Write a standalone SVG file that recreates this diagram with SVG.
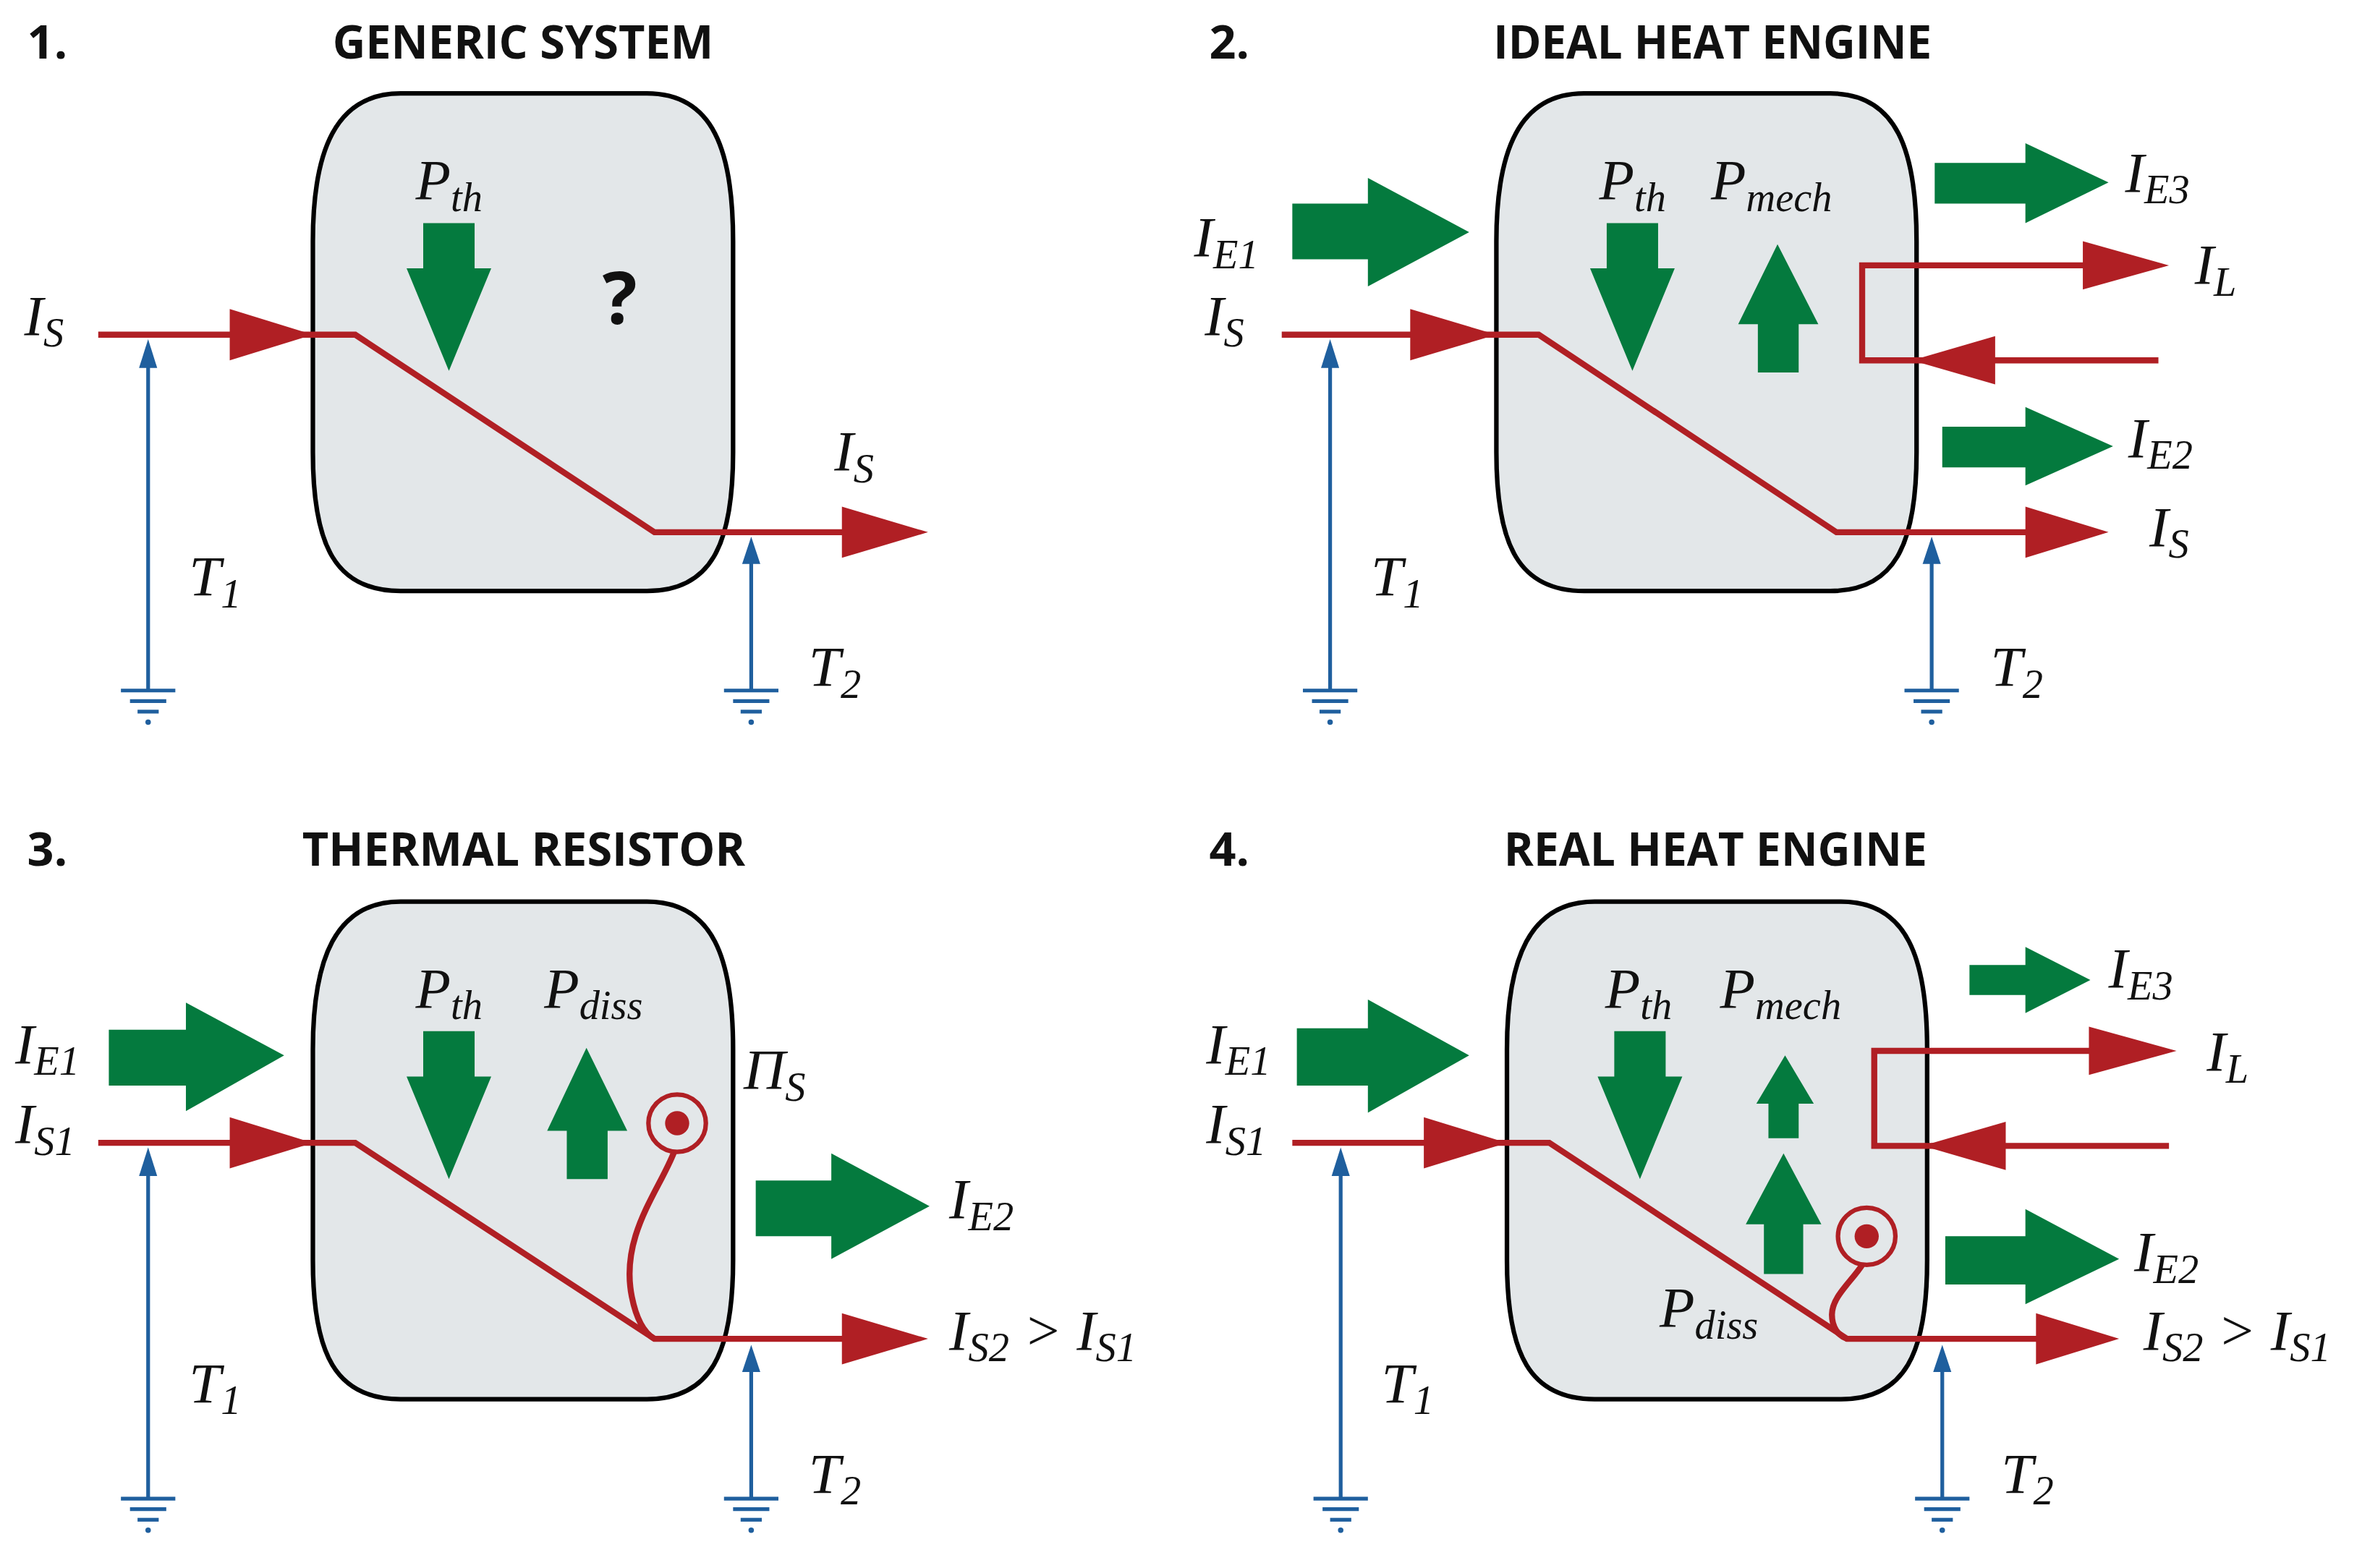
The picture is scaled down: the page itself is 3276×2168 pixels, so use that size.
<svg xmlns="http://www.w3.org/2000/svg" width="3276" height="2168" viewBox="0 0 3276 2168">
<style>
.box{fill:#e3e7e9;stroke:#000;stroke-width:3}
.red{fill:none;stroke:#b01f24;stroke-width:4}
.rf{fill:#b01f24}
.gf{fill:#047a3e}
.blue{stroke:#1f5f9e;stroke-width:2.5;fill:none}
.bf{fill:#1f5f9e}
.t{font-family:"Open Sans","Liberation Sans",sans-serif;font-weight:700;font-size:31px;fill:#111}
.m{font-family:"Liberation Serif",serif;font-style:italic;font-size:38px;fill:#111}
.s{font-size:27px}
</style>
<defs>
<g id="gnd"><line class="blue" x1="-18" y1="458" x2="18" y2="458" stroke-width="3"/><line class="blue" x1="-12" y1="465" x2="12" y2="465"/><line class="blue" x1="-7" y1="472" x2="7" y2="472"/><circle class="bf" cx="0" cy="479" r="1.8"/></g>
<path id="boxp" class="box" d="M265,62 L428,62 C472,62 485,100 485,160 L485,300 C485,362 470,392 428,392 L265,392 C222,392 207,362 207,300 L207,160 C207,100 222,62 265,62 Z"/>
<g id="dn"><polygon class="gf" points="-17,148 17,148 17,178 28,178 0,246 -28,178 -17,178"/></g>
</defs>
<rect width="3276" height="2168" fill="#fff"/>
<g transform="scale(2.0893,2.0846)">
<g id="panel1">
<text class="t" x="18" y="39">1.</text>
<text class="t" x="220" y="39" textLength="252" lengthAdjust="spacingAndGlyphs">GENERIC SYSTEM</text>
<use href="#boxp"/>
<use href="#dn" x="297"/>
<text x="410" y="215" font-family="Open Sans,Liberation Sans,sans-serif" font-weight="700" font-size="48" text-anchor="middle" fill="#111">?</text>
<text class="m" x="275" y="132">P<tspan class="s" dy="8">th</tspan></text>
</g>
<g id="connectors1">
<polyline class="red" points="65,222 235,222 433,353 560,353"/>
<polygon class="rf" points="152,205 207,222 152,239"/>
<polygon class="rf" points="557,336 614,353 557,370"/>
<line class="blue" x1="98" y1="458" x2="98" y2="240"/><polygon class="bf" points="92,244 98,225 104,244"/>
<line class="blue" x1="497" y1="458" x2="497" y2="370"/><polygon class="bf" points="491,374 497,356 503,374"/>
<use href="#gnd" x="98"/><use href="#gnd" x="497"/>
<text class="m" x="16" y="222">I<tspan class="s" dy="8">S</tspan></text>
<text class="m" x="552" y="312">I<tspan class="s" dy="8">S</tspan></text>
<text class="m" x="125" y="395">T<tspan class="s" dy="8">1</tspan></text>
<text class="m" x="535" y="455">T<tspan class="s" dy="8">2</tspan></text>
</g>
<g id="panel2">
<text class="t" x="800" y="39">2.</text>
<text class="t" x="988" y="39" textLength="290" lengthAdjust="spacingAndGlyphs">IDEAL HEAT ENGINE</text>
<use href="#boxp" x="783"/>
<use href="#dn" x="1080"/>
<polygon class="gf" points="1163,247 1190,247 1190,215 1203,215 1176,162 1150,215 1163,215"/>
<text class="m" x="1058" y="132">P<tspan class="s" dy="8">th</tspan></text>
<text class="m" x="1132" y="132">P<tspan class="s" dy="8">mech</tspan></text>
</g>
<g id="connectors2">
<polygon class="gf" points="855,135 905,135 905,118 972,154 905,190 905,172 855,172"/>
<polygon class="gf" points="1280,108 1340,108 1340,95 1395,121 1340,148 1340,135 1280,135"/>
<polygon class="gf" points="1285,283 1340,283 1340,270 1398,296 1340,322 1340,310 1285,310"/>
<polyline class="red" points="848,222 1018,222 1215,353 1345,353"/>
<polygon class="rf" points="933,205 990,222 933,239"/>
<polygon class="rf" points="1340,336 1395,353 1340,370"/>
<polyline class="red" points="1428,239 1232,239 1232,176 1380,176"/>
<polygon class="rf" points="1378,160 1435,176 1378,192"/>
<polygon class="rf" points="1320,223 1265,239 1320,255"/>
<line class="blue" x1="880" y1="458" x2="880" y2="240"/><polygon class="bf" points="874,244 880,225 886,244"/>
<line class="blue" x1="1278" y1="458" x2="1278" y2="370"/><polygon class="bf" points="1272,374 1278,356 1284,374"/>
<use href="#gnd" x="880"/><use href="#gnd" x="1278"/>
<text class="m" x="790" y="170">I<tspan class="s" dy="8">E1</tspan></text>
<text class="m" x="797" y="222">I<tspan class="s" dy="8">S</tspan></text>
<text class="m" x="1406" y="127">I<tspan class="s" dy="8">E3</tspan></text>
<text class="m" x="1452" y="188">I<tspan class="s" dy="8">L</tspan></text>
<text class="m" x="1408" y="303">I<tspan class="s" dy="8">E2</tspan></text>
<text class="m" x="1422" y="362">I<tspan class="s" dy="8">S</tspan></text>
<text class="m" x="907" y="395">T<tspan class="s" dy="8">1</tspan></text>
<text class="m" x="1317" y="455">T<tspan class="s" dy="8">2</tspan></text>
</g>
<g id="panel3">
<text class="t" x="18" y="574">3.</text>
<text class="t" x="200" y="574" textLength="293" lengthAdjust="spacingAndGlyphs">THERMAL RESISTOR</text>
<use href="#boxp" y="536"/>
<use href="#dn" x="297" y="536"/>
<polygon class="gf" points="375,782 402,782 402,750 415,750 388,695 362,750 375,750"/>
<text class="m" x="275" y="668">P<tspan class="s" dy="8">th</tspan></text>
<text class="m" x="360" y="668">P<tspan class="s" dy="8">diss</tspan></text>
<circle cx="448" cy="745" r="19" fill="none" stroke="#b01f24" stroke-width="3"/>
<circle cx="448" cy="745" r="8" class="rf"/>
</g>
<g id="connectors3">
<polygon class="gf" points="72,683 123,683 123,665 188,700 123,737 123,720 72,720"/>
<polygon class="gf" points="500,783 550,783 550,765 615,800 550,835 550,820 500,820"/>
<polyline class="red" points="65,758 235,758 433,888 560,888"/>
<path class="red" d="M446,764 C436,790 410,820 418,860 C421,875 426,884 433,888"/>
<polygon class="rf" points="152,741 207,758 152,775"/>
<polygon class="rf" points="557,871 614,888 557,905"/>
<line class="blue" x1="98" y1="993" x2="98" y2="776"/><polygon class="bf" points="92,780 98,761 104,780"/>
<line class="blue" x1="497" y1="993" x2="497" y2="906"/><polygon class="bf" points="491,910 497,892 503,910"/>
<use href="#gnd" x="98" y="536"/><use href="#gnd" x="497" y="536"/>
<text class="m" x="10" y="705">I<tspan class="s" dy="8">E1</tspan></text>
<text class="m" x="10" y="758">I<tspan class="s" dy="8">S1</tspan></text>
<text class="m" x="492" y="722">Π<tspan class="s" dy="8">S</tspan></text>
<text class="m" x="628" y="808">I<tspan class="s" dy="8">E2</tspan></text>
<text class="m" x="628" y="895">I<tspan class="s" dy="8">S2</tspan><tspan dy="-8"> &gt; I</tspan><tspan class="s" dy="8">S1</tspan></text>
<text class="m" x="125" y="930">T<tspan class="s" dy="8">1</tspan></text>
<text class="m" x="535" y="990">T<tspan class="s" dy="8">2</tspan></text>
</g>
<g id="panel4">
<text class="t" x="800" y="574">4.</text>
<text class="t" x="995" y="574" textLength="280" lengthAdjust="spacingAndGlyphs">REAL HEAT ENGINE</text>
<use href="#boxp" x="790" y="536"/>
<use href="#dn" x="1085" y="536"/>
<polygon class="gf" points="1170,755 1190,755 1190,732 1200,732 1181,700 1162,732 1170,732"/>
<polygon class="gf" points="1167,845 1193,845 1193,812 1205,812 1180,765 1155,812 1167,812"/>
<text class="m" x="1062" y="668">P<tspan class="s" dy="8">th</tspan></text>
<text class="m" x="1138" y="668">P<tspan class="s" dy="8">mech</tspan></text>
<text class="m" x="1098" y="880">P<tspan class="s" dy="8">diss</tspan></text>
<circle cx="1235" cy="820" r="19" fill="none" stroke="#b01f24" stroke-width="3"/>
<circle cx="1235" cy="820" r="8" class="rf"/>
</g>
<g id="connectors4">
<polygon class="gf" points="858,682 905,682 905,663 972,700 905,738 905,720 858,720"/>
<polygon class="gf" points="1303,640 1340,640 1340,628 1383,650 1340,672 1340,660 1303,660"/>
<polygon class="gf" points="1287,820 1340,820 1340,802 1402,835 1340,865 1340,852 1287,852"/>
<polyline class="red" points="855,758 1025,758 1222,888 1350,888"/>
<path class="red" d="M1232,839 C1225,850 1212,860 1212,872 C1212,880 1216,886 1222,888"/>
<polygon class="rf" points="942,741 997,758 942,775"/>
<polygon class="rf" points="1347,871 1402,888 1347,905"/>
<polyline class="red" points="1435,760 1240,760 1240,697 1385,697"/>
<polygon class="rf" points="1382,681 1440,697 1382,713"/>
<polygon class="rf" points="1327,744 1272,760 1327,776"/>
<line class="blue" x1="887" y1="993" x2="887" y2="776"/><polygon class="bf" points="881,780 887,761 893,780"/>
<line class="blue" x1="1285" y1="993" x2="1285" y2="906"/><polygon class="bf" points="1279,910 1285,892 1291,910"/>
<use href="#gnd" x="887" y="536"/><use href="#gnd" x="1285" y="536"/>
<text class="m" x="798" y="705">I<tspan class="s" dy="8">E1</tspan></text>
<text class="m" x="798" y="758">I<tspan class="s" dy="8">S1</tspan></text>
<text class="m" x="1395" y="655">I<tspan class="s" dy="8">E3</tspan></text>
<text class="m" x="1460" y="710">I<tspan class="s" dy="8">L</tspan></text>
<text class="m" x="1412" y="843">I<tspan class="s" dy="8">E2</tspan></text>
<text class="m" x="1418" y="895">I<tspan class="s" dy="8">S2</tspan><tspan dy="-8"> &gt; I</tspan><tspan class="s" dy="8">S1</tspan></text>
<text class="m" x="914" y="930">T<tspan class="s" dy="8">1</tspan></text>
<text class="m" x="1324" y="990">T<tspan class="s" dy="8">2</tspan></text>
</g>
</g>
</svg>
